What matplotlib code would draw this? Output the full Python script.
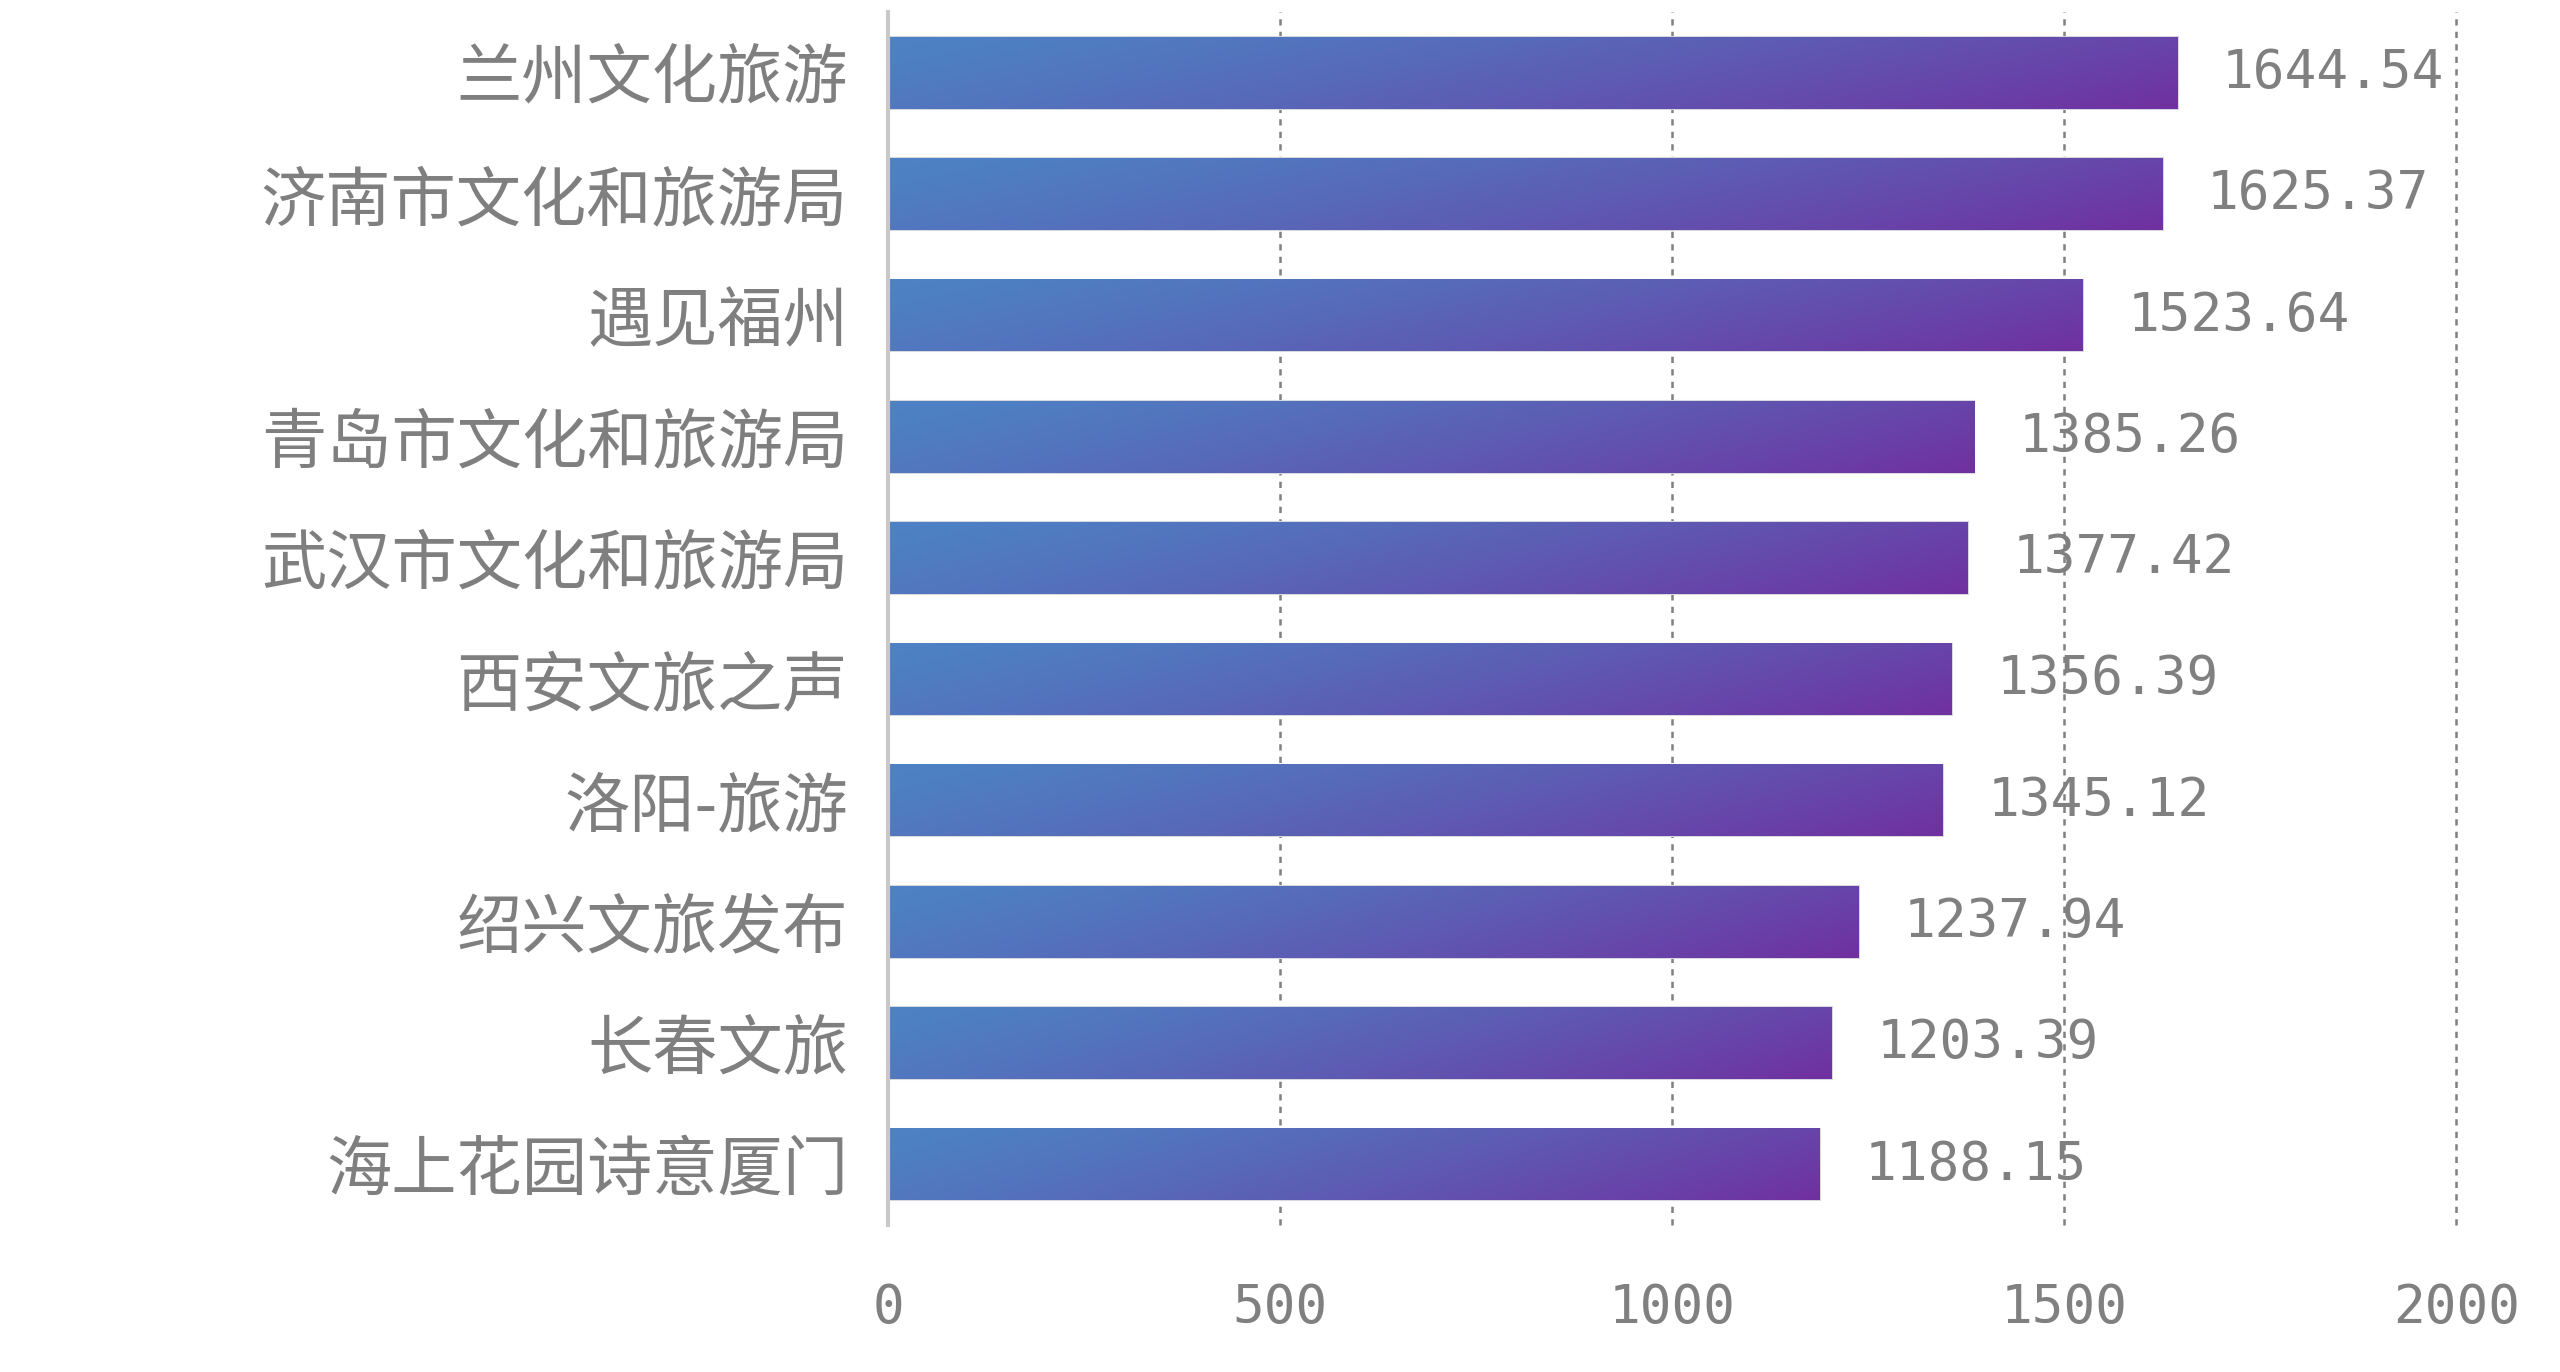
import numpy as np
import matplotlib
matplotlib.use('Agg')
import matplotlib.pyplot as plt
from matplotlib.colors import to_rgb

# data, top to bottom
names = ['兰州文化旅游', '济南市文化和旅游局', '遇见福州', '青岛市文化和旅游局',
         '武汉市文化和旅游局', '西安文旅之声', '洛阳-旅游', '绍兴文旅发布',
         '长春文旅', '海上花园诗意厦门']
values = [1644.54, 1625.37, 1523.64, 1385.26, 1377.42,
          1356.39, 1345.12, 1237.94, 1203.39, 1188.15]
xticks = [0, 500, 1000, 1500, 2000]

plt.rcParams['font.family'] = ['Noto Sans CJK SC', 'DejaVu Sans']

fig = plt.figure(figsize=(25.6, 13.72), dpi=100)
ax = fig.add_axes([0.347, 0.107, 0.6125, 0.884])

c_start = np.array(to_rgb('#4d82c4'))
c_end = np.array(to_rgb('#7030a0'))

bar_h = 0.59
ypos = np.arange(len(names))
bars = ax.barh(ypos, values, height=bar_h, color='#6060b0',
               edgecolor='#d8d8e0', linewidth=1.5, zorder=2)

# gradient fill for every bar (left-top blue -> right-bottom purple)
nx, ny = 256, 32
gx = np.linspace(0, 1, nx)[None, :]
gy = np.linspace(0, 1, ny)[:, None]
t = np.clip(0.8 * gx + 0.2 * gy, 0, 1) ** 1.3
grad = c_start[None, None, :] * (1 - t[..., None]) + c_end[None, None, :] * t[..., None]
for b, v, y in zip(bars, values, ypos):
    ax.imshow(grad, extent=(0, v, y + bar_h / 2, y - bar_h / 2), origin='upper',
              aspect='auto', interpolation='bilinear', zorder=3)
    ax.annotate(f'{v:.2f}', xy=(v, y), xytext=(32, 0), textcoords='offset points',
                va='center', ha='left', fontsize=38, color='#808080',
                family=['DejaVu Sans Mono'], zorder=1)

ax.set_xlim(0, 2000)
ax.set_ylim(len(names) - 0.5, -0.5)
ax.set_yticks(ypos)
ax.set_yticklabels(names, fontsize=47, color='#7f7f7f')
ax.set_xticks(xticks)
ax.set_xticklabels([str(x) for x in xticks], fontsize=38, color='#808080',
                   family=['DejaVu Sans Mono'])
ax.tick_params(axis='both', length=0)
ax.tick_params(axis='y', pad=29)
ax.tick_params(axis='x', pad=41)

for s in ['top', 'right', 'bottom']:
    ax.spines[s].set_visible(False)
ax.spines['left'].set_color('#c8c8c8')
ax.spines['left'].set_linewidth(3)
ax.spines['left'].set_zorder(4)

# dashed vertical grid
for x in xticks[1:]:
    ax.axvline(x, color='#808080', linestyle=(0, (2.5, 2.5)), linewidth=1.8,
               zorder=1.5, clip_on=False)

fig.savefig('out.png', dpi=100, facecolor='white')
